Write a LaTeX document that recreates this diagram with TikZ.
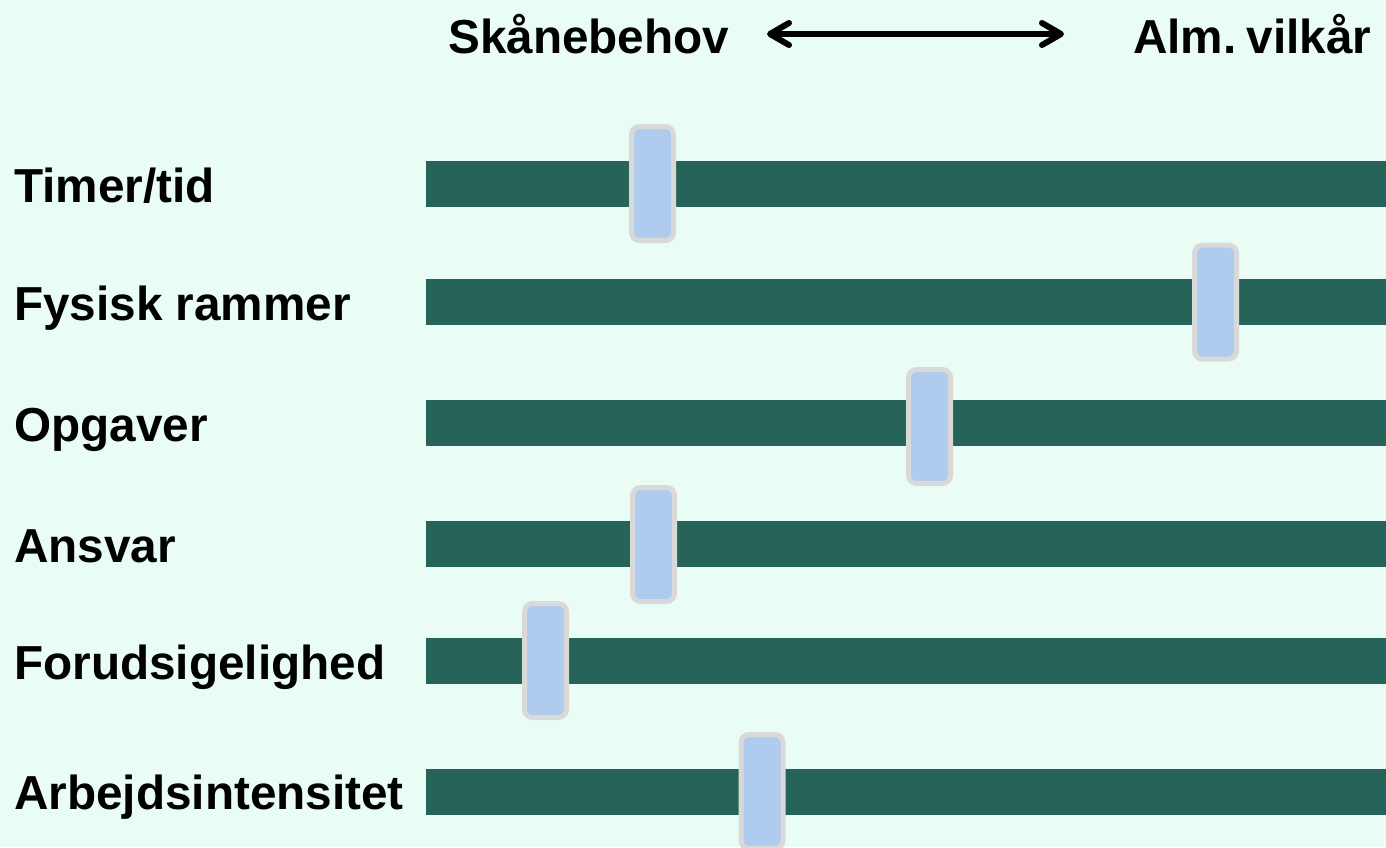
\documentclass[tikz,border=0pt]{standalone}
\usepackage{fontspec}
\setmainfont{Liberation Sans}
\usetikzlibrary{arrows.meta}
\definecolor{bgc}{HTML}{E9FDF5}
\definecolor{barc}{HTML}{266459}
\definecolor{slfill}{HTML}{AFCBEE}
\definecolor{slborder}{HTML}{D9D9D9}
\tikzset{
  lbl/.style={anchor=base west, inner sep=0pt, font=\fontsize{47.7}{56}\selectfont\bfseries},
  bar/.style={fill=barc, draw=none},
  slider/.style={draw=slborder, fill=slfill, line width=5pt, rounded corners=8pt,
    minimum width=42pt, minimum height=114pt, inner sep=0pt},
  dblarrow/.style={line width=6pt, {Straight Barb[length=19pt,width=22pt,line cap=round,round]}-{Straight Barb[length=19pt,width=22pt,line cap=round,round]}}
}
\begin{document}
\begin{tikzpicture}[x=1pt,y=-1pt]
\fill[bgc] (0,0) rectangle (1386,847);
\useasboundingbox (0,0) rectangle (1386,847);
% header
\node[lbl] (h1) at (448,53) {Skånebehov};
\node[lbl] (h2) at (1133,53) {Alm.\kern10pt vilkår};
\coordinate (aL) at (767,34);
\coordinate (aR) at (1064,34);
\draw[dblarrow] (aL) -- (aR);
% rows
\foreach \name/\c/\sx/\sy [count=\i] in {
  {Timer/tid}/184/652.5/183.5,
  {Fysisk rammer}/302/1215.5/302,
  {Opgaver}/423/929.5/426.5,
  {Ansvar}/544/653.5/544.5,
  {Forudsigelighed}/661/545.5/660.5,
  {Arbejdsintensitet}/791.5/762/791.5}{
  \fill[bar] (426,\c-23) rectangle (1386,\c+23);
  \node[lbl] (l\i) at (14,\c+18) {\name};
  \node[slider] (s\i) at (\sx,\sy) {};
}
\end{tikzpicture}
\end{document}
